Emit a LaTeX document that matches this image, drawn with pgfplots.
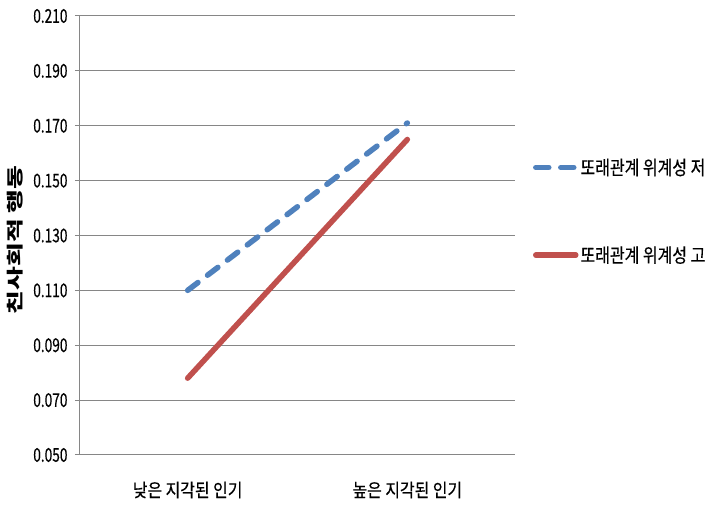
\documentclass[border=0pt]{standalone}
\usepackage{fontspec}
\setmainfont[FakeStretch=0.82,FakeBold=0.4]{Noto Sans CJK KR}
\newfontfamily\ylabfont[FakeStretch=1.52]{Noto Sans CJK KR}
\newfontfamily\tickfont[FakeStretch=0.72,FakeBold=0.3]{Noto Sans CJK KR}
\newfontfamily\xlabfont[FakeStretch=0.86,FakeBold=0.4]{Noto Sans CJK KR}
\usepackage{pgfplots}
\pgfplotsset{compat=1.18}
\definecolor{exblue}{HTML}{4F81BD}
\definecolor{exred}{HTML}{C0504D}
\definecolor{gridgray}{HTML}{868686}
\begin{document}
\begin{tikzpicture}
\path (-80pt,-51pt) rectangle (630pt,455pt);
\begin{axis}[
  at={(0pt,0pt)}, anchor=south west,
  scale only axis, width=435pt, height=439pt,
  xmin=-0.49, xmax=1.49, ymin=0.05, ymax=0.21,
  axis lines*=left,
  axis line style={gridgray, line width=1pt},
  ymajorgrids, grid style={gridgray, line width=1pt},
  ytick={0.05,0.07,0.09,0.11,0.13,0.15,0.17,0.19,0.21},
  yticklabels={0.050,0.070,0.090,0.110,0.130,0.150,0.170,0.190,0.210},
  xtick={0,1},
  xticklabels={낮은 지각된 인기, 높은 지각된 인기},
  tick align=outside, major tick length=5pt,
  ytick style={gridgray, line width=1pt},
  xtick style={draw=none},
  yticklabel style={font=\tickfont\fontsize{19}{22}\selectfont, xshift=-4pt},
  xticklabel style={font=\xlabfont\fontsize{18.5}{21}\selectfont, anchor=center, yshift=-30pt},
  ylabel={\ylabfont\bfseries 친사회적 행동},
  ylabel style={font=\fontsize{17}{20}\selectfont, at={(axis description cs:-0.149,0.49)}, anchor=center},
  legend style={draw=none, fill=none, inner sep=0pt, at={(1.041,0.68)}, anchor=north west,
    row sep=66pt, font=\fontsize{19.5}{22}\selectfont},
  legend cell align=left,
  legend image code/.code={\draw[#1] (0pt,0pt) -- (40pt,0pt);},
]
\addplot[exblue, line width=5.5pt, line cap=round, dash pattern=on 13pt off 12pt]
  coordinates {(0,0.110) (1,0.171)};
\addlegendentry{또래관계 위계성 저}
\addplot[exred, line width=5.5pt, line cap=round]
  coordinates {(0,0.078) (1,0.165)};
\addlegendentry{또래관계 위계성 고}
\end{axis}
\end{tikzpicture}
\end{document}
